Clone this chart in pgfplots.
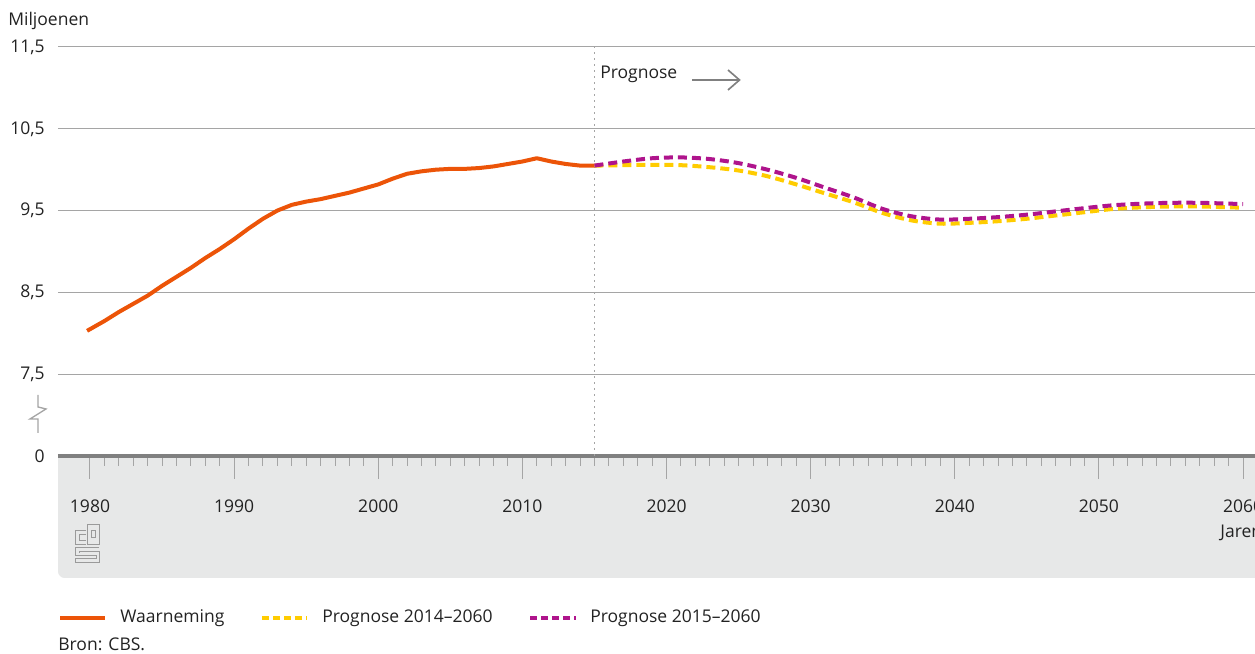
\documentclass[border=0pt]{standalone}
\usepackage{pgfplots}
\pgfplotsset{compat=1.18}
\usepackage{fontspec}
\setmainfont{Open Sans}
\definecolor{cbsorange}{RGB}{236,84,8}
\definecolor{cbsyellow}{RGB}{255,204,0}
\definecolor{cbspurple}{RGB}{175,20,140}
\definecolor{bandgray}{RGB}{231,232,232}
\definecolor{axgray}{RGB}{128,128,128}
\definecolor{gridgray}{RGB}{165,165,165}
\definecolor{txt}{RGB}{34,34,34}
\begin{document}
\begin{tikzpicture}[font=\fontsize{10.5pt}{12pt}\selectfont, text=txt]
\path[use as bounding box] (0,0) rectangle (753pt,392.4pt);
\begin{scope}[x=0.6pt,y=-0.6pt,shift={(0pt,392.4pt)}]
  \fill[bandgray] (58,456) [rounded corners=4pt] -- (58,578) [sharp corners] -- (1300,578) -- (1300,456) -- cycle;
\end{scope}
\begin{axis}[
  at={(34.8pt,118.8pt)}, anchor=south west,
  scale only axis, width=718.2pt, height=245.4pt,
  xmin=1977.78, xmax=2060.83, ymin=6.5, ymax=11.5,
  axis x line*=bottom, axis y line*=left,
  x axis line style={draw=axgray, line width=2pt, -},
  y axis line style={draw=none},
  xtick={1980,1990,...,2060},
  xticklabels={1980,1990,2000,2010,2020,2030,2040,2050,2060},
  minor x tick num=9,
  tick align=outside,
  major tick length=13.8pt, minor tick length=6pt,
  xtick style={draw=gridgray, line width=0.6pt},
  minor x tick style={draw=gridgray, line width=0.6pt},
  ytick={6.5,7.5,8.5,9.5,10.5,11.5},
  yticklabels={0,{7,5},{8,5},{9,5},{10,5},{11,5}},
  ytick style={draw=none},
  ymajorgrids, grid style={draw=gridgray, line width=0.6pt},
  xticklabel style={anchor=base, inner sep=0pt, yshift=-20.4pt},
  yticklabel style={anchor=east, inner sep=0pt, xshift=6pt},
  clip=false,
]
\draw[gridgray, line width=0.7pt, dash pattern=on 1.2pt off 2.4pt] (axis cs:2015,6.5) -- (axis cs:2015,11.5);
\addplot[cbsorange, line width=2.4pt, line join=round, line cap=butt] coordinates {
(1979.8,8.03) (1981,8.15) (1982,8.26) (1983,8.36) (1984,8.46) (1985,8.58) (1986,8.69) (1987,8.80) (1988,8.92) (1989,9.03) (1990,9.15) (1991,9.28) (1992,9.40) (1993,9.50) (1994,9.57) (1995,9.61) (1996,9.64) (1997,9.68) (1998,9.72) (1999,9.77) (2000,9.82) (2001,9.89) (2002,9.95) (2003,9.98) (2004,10.00) (2005,10.01) (2006,10.01) (2007,10.02) (2008,10.04) (2009,10.07) (2010,10.10) (2011,10.14) (2012,10.10) (2013,10.07) (2014,10.05) (2015,10.05)
};
\addplot[cbsyellow, line width=2.4pt, smooth, dash pattern=on 5.4pt off 3pt] coordinates {
(2015,10.05) (2017,10.055) (2019,10.06) (2021,10.055) (2023,10.03) (2025,9.99) (2027,9.92) (2029,9.82) (2031,9.71) (2033,9.60) (2035,9.47) (2037,9.38) (2039,9.34) (2041,9.35) (2043,9.37) (2045,9.40) (2047,9.44) (2049,9.48) (2051,9.52) (2053,9.54) (2055,9.55) (2057,9.55) (2059,9.54) (2060,9.535)
};
\addplot[cbspurple, line width=2.4pt, smooth, dash pattern=on 5.4pt off 3pt] coordinates {
(2015,10.05) (2017,10.10) (2019,10.14) (2021,10.15) (2023,10.13) (2025,10.08) (2027,10.00) (2029,9.90) (2031,9.78) (2033,9.66) (2035,9.52) (2037,9.43) (2039,9.39) (2041,9.40) (2043,9.42) (2045,9.45) (2047,9.49) (2049,9.53) (2051,9.565) (2053,9.585) (2055,9.595) (2057,9.595) (2059,9.585) (2060,9.58)
};
\end{axis}
\begin{scope}[x=0.6pt,y=-0.6pt,shift={(0pt,392.4pt)}]
  \node[anchor=base west, inner sep=0pt] at (8,26) {Miljoenen};
  \draw[gridgray, line width=0.8pt, line join=miter] (38,395) -- (38,407) -- (46,409) -- (30,419) -- (38,419) -- (38,433);
  \node[anchor=base west, inner sep=0pt] at (600,79) {Prognose};
  \draw[axgray, line width=1pt] (692,80) -- (739,80);
  \draw[axgray, line width=1pt] (728,70) -- (739.5,80) -- (728,90);
  \node[anchor=base west, inner sep=0pt] at (1220,538) {Jaren};
  % logo
  \begin{scope}[axgray!80, line width=0.6pt]
    \draw (86,531) -- (75,531) -- (75,545) -- (86,545);
    \draw (86,535) -- (79,535) -- (79,541) -- (86,541);
    \draw (87,525) rectangle (99,545);
    \draw (91,531) rectangle (95,538);
    \draw (99,548) -- (75,548) -- (75,556) -- (96,556) -- (96,559) -- (75,559) -- (75,563) -- (99,563) -- (99,552) -- (79,552) -- (79,553);
  \end{scope}
  % legend
  \draw[cbsorange, line width=2.4pt] (60,618) -- (105,618);
  \node[anchor=base west, inner sep=0pt] at (120,623) {Waarneming};
  \draw[cbsyellow, line width=2.4pt, dash pattern=on 4.2pt off 2.4pt] (262,618) -- (307,618);
  \node[anchor=base west, inner sep=0pt] at (322,623) {Prognose 2014--2060};
  \draw[cbspurple, line width=2.4pt, dash pattern=on 4.2pt off 2.4pt] (530,618) -- (576,618);
  \node[anchor=base west, inner sep=0pt] at (590,623) {Prognose 2015--2060};
  \node[anchor=base west, inner sep=0pt] at (58,651) {Bron: CBS.};
\end{scope}
\end{tikzpicture}
\end{document}
